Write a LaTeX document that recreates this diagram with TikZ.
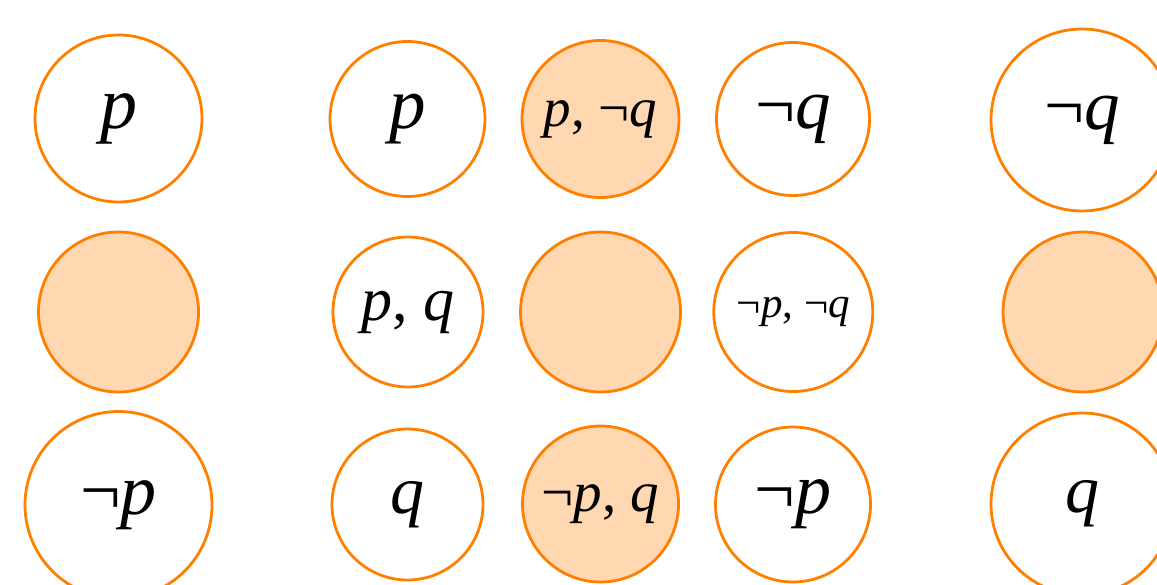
\documentclass[tikz,border=0pt]{standalone}
\usepackage{fontspec}
\setmainfont{Liberation Serif}
\usetikzlibrary{positioning}
\definecolor{ringorange}{RGB}{255,128,0}
\definecolor{worldfill}{RGB}{255,216,178}
\newcommand{\lit}[1]{\textit{#1}}

\begin{document}
\begin{tikzpicture}[
    x=1pt, y=-1pt,
    world/.style={circle, draw=ringorange, line width=2.8pt, inner sep=0pt},
    shaded/.style={world, fill=worldfill},
    sz/.style={font=\fontsize{#1}{#1}\selectfont}
]
\useasboundingbox (0,0) rectangle (1157,585);
% left column
\node[world, minimum size=167pt, sz=74] (lp) at (118.5,118.5) {\lit{p}};
\node[shaded, minimum size=160pt] (lmid) at (118.5,312) {};
\node[world, minimum size=187pt, sz=72] (lnp) at (118.5,505) {¬\lit{p}};
% middle block
\node[world, minimum size=155pt, sz=73] (mp) at (407.5,119) {\lit{p}};
\node[shaded, minimum size=157pt, sz=55] (mpnq) at (600.5,119) {\lit{p}, ¬\lit{q}};
\node[world, minimum size=153pt, sz=71] (mnq) at (793,119) {¬\lit{q}};
\node[world, minimum size=150pt, sz=62] (mpq) at (408,312) {\lit{p}, \lit{q}};
\node[shaded, minimum size=160pt] (mmid) at (600.5,312) {};
\node[world, minimum size=159pt, sz=43] (mnpnq) at (793.3,312) {¬\lit{p}, ¬\lit{q}};
\node[world, minimum size=151pt, sz=68] (mq) at (407.5,504.5) {\lit{q}};
\node[shaded, minimum size=156pt, sz=57] (mnpq) at (600.5,504) {¬\lit{p}, \lit{q}};
\node[world, minimum size=155pt, sz=72] (mnp) at (793,504.5) {¬\lit{p}};
% right column
\node[world, minimum size=182pt, sz=71] (rnq) at (1082,120) {¬\lit{q}};
\node[shaded, minimum size=160pt] (rmid) at (1083,312) {};
\node[world, minimum size=182pt, sz=68] (rq) at (1082,504) {\lit{q}};
\end{tikzpicture}
\end{document}
